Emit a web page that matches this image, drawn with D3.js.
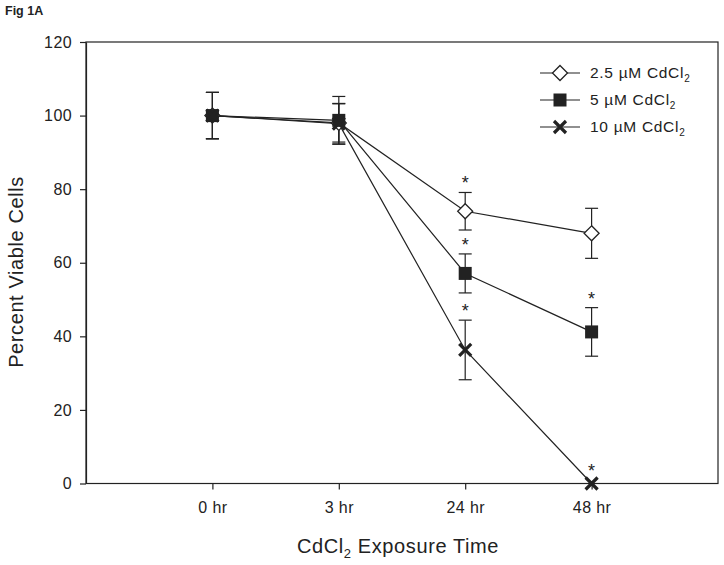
<!DOCTYPE html>
<html><head><meta charset="utf-8">
<script src="https://cdn.jsdelivr.net/npm/d3@7"></script>
<style>body{margin:0;background:#fff}svg{display:block}text{font-family:Arial,"Liberation Sans",sans-serif;fill:#222}</style>
</head><body>
<svg id="c" width="724" height="565"></svg>
<script>
const categories = ["0 hr","3 hr","24 hr","48 hr"];
const seriesNames = ["2.5 µM CdCl", "5 µM CdCl", "10 µM CdCl"];
const values25 = [100, 98.0, 74.0, 68.0];
const errors25 = [6.3, 5.2, 5.1, 6.8];
const values5 = [100, 98.7, 57.1, 41.2];
const errors5 = [6.3, 6.5, 5.3, 6.6];
const values10 = [100, 97.8, 36.3, 0];
const errors10 = [6.3, 5.5, 8.1, 0];
const stars25 = [false, false, true, false];
const stars5 = [false, false, true, true];
const stars10 = [false, false, true, true];
const yTicks = [0,20,40,60,80,100,120];

const svg = d3.select("#c");
const L = 86, R = 718, T = 42, B = 483.5;
const x = d3.scalePoint().domain(["_l", ...categories, "_r"]).range([L, R]);
const y = d3.scaleLinear().domain([0,120]).range([B, T]);

svg.append("text").attr("x",5).attr("y",15).attr("font-size",12.5).attr("font-weight","bold").text("Fig 1A");

// frame
svg.append("rect").attr("x",L).attr("y",T).attr("width",R-L).attr("height",B-T)
  .attr("fill","none").attr("stroke","#222").attr("stroke-width",1.2);

const ya = svg.append("g").attr("transform",`translate(${L},0)`)
  .call(d3.axisLeft(y).tickValues(yTicks).tickSize(6).tickPadding(8).tickSizeOuter(0));
ya.select(".domain").attr("stroke","#222").attr("stroke-width",1.2);
ya.selectAll("text").attr("font-size",16).attr("letter-spacing",0.4).attr("font-family","Arial,'Liberation Sans',sans-serif").attr("fill","#222");
const xa = svg.append("g").attr("transform",`translate(0,${B})`)
  .call(d3.axisBottom(x).tickValues(categories).tickSize(6).tickPadding(12).tickSizeOuter(0));
xa.select(".domain").remove();
xa.selectAll("text").attr("font-size",16).attr("letter-spacing",0.4).attr("font-family","Arial,'Liberation Sans',sans-serif").attr("fill","#222");
svg.selectAll(".tick line").attr("stroke","#222").attr("stroke-width",1.2);

// axis titles
const yt = svg.append("text").attr("transform","translate(23,272) rotate(-90)").attr("text-anchor","middle").attr("font-size",20).attr("letter-spacing",0.6);
yt.text("Percent Viable Cells");
const xt = svg.append("text").attr("x",398).attr("y",553).attr("text-anchor","middle").attr("font-size",20).attr("letter-spacing",0.6);
xt.append("tspan").text("CdCl");
xt.append("tspan").attr("font-size",13).attr("dy",5).text("2");
xt.append("tspan").attr("dy",-5).text(" Exposure Time");

const series = [
  {v: values25, e: errors25, s: stars25, m: "diamond"},
  {v: values5, e: errors5, s: stars5, m: "square"},
  {v: values10, e: errors10, s: stars10, m: "cross"}
];
const line = d3.line().x((d,i)=>x(categories[i])).y(d=>y(d));

function marker(g, type, cx, cy){
  if(type==="diamond"){
    g.append("path").attr("d",`M${cx},${cy-7.5}L${cx+7.5},${cy}L${cx},${cy+7.5}L${cx-7.5},${cy}Z`)
     .attr("fill","#fff").attr("stroke","#222").attr("stroke-width",1.3);
  } else if(type==="square"){
    g.append("rect").attr("x",cx-6.5).attr("y",cy-6.5).attr("width",13).attr("height",13).attr("fill","#222");
  } else {
    g.append("path").attr("d",`M${cx-6},${cy-6}L${cx+6},${cy+6}M${cx-6},${cy+6}L${cx+6},${cy-6}`)
     .attr("stroke","#222").attr("stroke-width",3.2);
  }
}

const plot = svg.append("g");
// error bars
series.forEach(s=>{
  s.v.forEach((v,i)=>{
    if(!s.e[i]) return;
    const cx = x(categories[i]);
    const g = plot.append("g").attr("stroke","#222").attr("stroke-width",1.2);
    g.append("line").attr("x1",cx).attr("x2",cx).attr("y1",y(v+s.e[i])).attr("y2",y(v-s.e[i]));
    g.append("line").attr("x1",cx-6.5).attr("x2",cx+6.5).attr("y1",y(v+s.e[i])).attr("y2",y(v+s.e[i]));
    g.append("line").attr("x1",cx-6.5).attr("x2",cx+6.5).attr("y1",y(v-s.e[i])).attr("y2",y(v-s.e[i]));
  });
});
// lines
series.forEach(s=>{
  plot.append("path").attr("d",line(s.v)).attr("fill","none").attr("stroke","#222").attr("stroke-width",1.2);
});
// markers
series.forEach(s=>{
  s.v.forEach((v,i)=>marker(plot, s.m, x(categories[i]), y(v)));
});
// stars
series.forEach(s=>{
  s.v.forEach((v,i)=>{
    if(!s.s[i]) return;
    const top = y(v+s.e[i]);
    plot.append("text").attr("x",x(categories[i])).attr("y",top-(s.e[i]?3:7)).attr("text-anchor","middle")
      .attr("font-size",18).text("*");
  });
});

// legend
const lg = svg.append("g");
const rowsY = [73, 100, 127];
series.forEach((s,i)=>{
  const ry = rowsY[i];
  lg.append("line").attr("x1",540).attr("x2",580).attr("y1",ry).attr("y2",ry).attr("stroke","#222").attr("stroke-width",1.2);
  marker(lg, s.m, 560, ry);
  const t = lg.append("text").attr("x",590).attr("y",ry+5).attr("font-size",15.5).attr("letter-spacing",0.7);
  t.append("tspan").text(seriesNames[i]);
  t.append("tspan").attr("font-size",10).attr("dy",4).text("2");
});
</script>
</body></html>
